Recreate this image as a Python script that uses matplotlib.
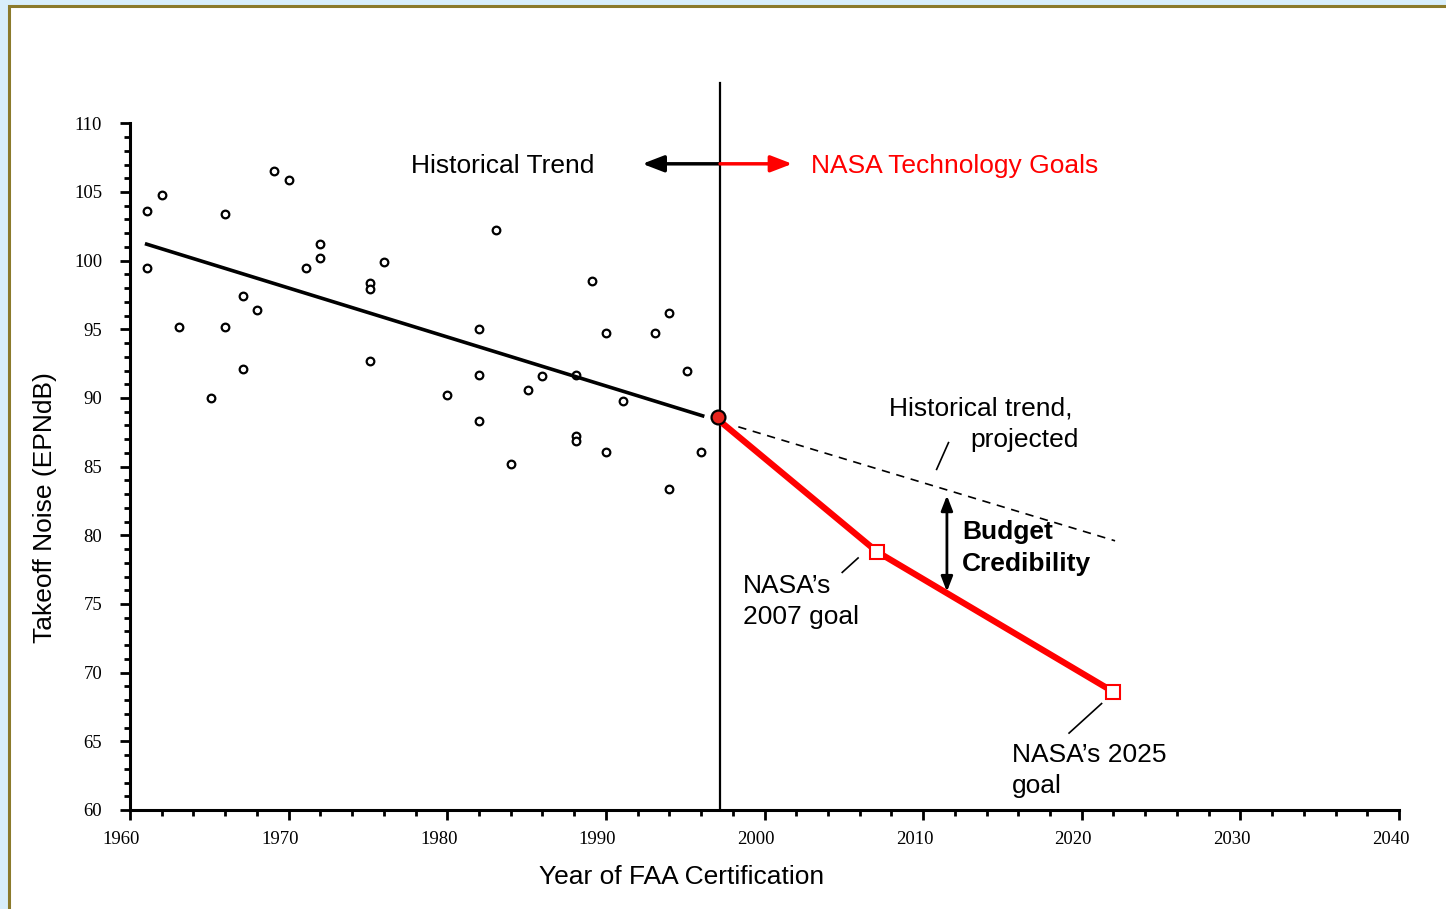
import matplotlib
matplotlib.use("Agg")
import matplotlib.pyplot as plt
import matplotlib.transforms as mtransforms
from matplotlib.patches import Rectangle
from matplotlib.ticker import MultipleLocator

# ---- data ----
cert_year = [1961.1, 1961.1, 1962.0, 1963.1, 1965.1, 1966.0, 1966.0, 1967.1, 1967.1,
             1968.0, 1969.1, 1970.0, 1971.1, 1972.0, 1972.0, 1976.0, 1975.1, 1975.1,
             1975.1, 1980.0, 1982.0, 1982.0, 1982.0, 1983.1, 1984.0, 1985.1, 1986.0,
             1988.1, 1988.1, 1988.1, 1989.1, 1990.0, 1990.0, 1991.1, 1993.1, 1994.0,
             1994.0, 1995.1, 1996.0]
noise_db = [103.6, 99.5, 104.8, 95.2, 90.0, 103.4, 95.2, 97.4, 92.1,
            96.4, 106.5, 105.9, 99.5, 101.2, 100.2, 99.9, 98.4, 97.9,
            92.7, 90.2, 95.0, 91.7, 88.3, 102.2, 85.2, 90.6, 91.6,
            91.7, 87.2, 86.9, 98.5, 94.7, 86.1, 89.8, 94.7, 96.2,
            83.4, 92.0, 86.1]

trend_x = [1961.05, 1996.1]
trend_y = [101.2, 88.7]

goal_x = [1997.1, 2007.1, 2022.0]
goal_y = [88.4, 78.8, 68.6]

proj_x = [1998.35, 2022.1]
proj_y = [87.9, 79.6]

now_year = 1997.2
now_db = 88.6

# ---- figure ----
W, H = 1446, 909
fig = plt.figure(figsize=(W / 100, H / 100), dpi=100)
fig.patch.set_facecolor("#d8eefa")

# white panel with olive border behind the chart
bg = fig.add_axes([0, 0, 1, 1], zorder=-5)
bg.set_axis_off()
bg.set_xlim(0, W)
bg.set_ylim(H, 0)
bg.add_patch(Rectangle((8.5, 5.5), W + 20, H + 20, facecolor="white",
                       edgecolor="#8b7a2b", linewidth=2.2))

ax = fig.add_axes([130 / W, (H - 810) / H, (1399 - 130) / W, (810 - 123.3) / H])
ax.set_facecolor("none")
ax.set_xlim(1960, 2040)
ax.set_ylim(60, 110)

for side in ["top", "right"]:
    ax.spines[side].set_visible(False)
for side in ["left", "bottom"]:
    ax.spines[side].set_linewidth(2.2)

ax.xaxis.set_major_locator(MultipleLocator(10))
ax.xaxis.set_minor_locator(MultipleLocator(2))
ax.yaxis.set_major_locator(MultipleLocator(5))
ax.yaxis.set_minor_locator(MultipleLocator(1))
ax.tick_params(which="major", length=7, width=2)
ax.tick_params(which="minor", length=4, width=2)
ax.tick_params(axis="x", which="major", pad=8)
ax.tick_params(axis="y", which="major", pad=13)
for lab in ax.get_xticklabels() + ax.get_yticklabels():
    lab.set_fontfamily("Liberation Serif")
    lab.set_fontsize(13.5)
shift = mtransforms.ScaledTranslation(-8.5 / 100, 0, fig.dpi_scale_trans)
for lab in ax.get_xticklabels():
    lab.set_transform(lab.get_transform() + shift)

sans = "Liberation Sans"
fig.text(682 / W, 1 - 877 / H, "Year of FAA Certification", ha="center", va="center",
         fontsize=19, fontfamily=sans)
fig.text(45 / W, 1 - 508 / H, "Takeoff Noise (EPNdB)", ha="center", va="center",
         rotation=90, fontsize=19, fontfamily=sans)

# scatter of certified aircraft
ax.plot(cert_year, noise_db, linestyle="none", marker="o", markersize=5.5,
        markerfacecolor="white", markeredgecolor="black", markeredgewidth=1.6, zorder=3)

# historical trend
ax.plot(trend_x, trend_y, color="black", linewidth=2.6, zorder=3)
ax.plot(proj_x, proj_y, color="black", linewidth=1.2, linestyle=(0, (5, 4)), zorder=3)

# divider
ax.plot([now_year, now_year], [60, 112.9], color="black", linewidth=1.6,
        clip_on=False, zorder=2)

# NASA goals
ax.plot(goal_x, goal_y, color="#ff0000", linewidth=4.5, solid_capstyle="butt", zorder=4)
ax.plot(goal_x[1:], goal_y[1:], linestyle="none", marker="s", markersize=10,
        markerfacecolor="white", markeredgecolor="#ff0000", markeredgewidth=1.5, zorder=5)
ax.plot([now_year - 0.1], [now_db], linestyle="none", marker="o", markersize=10,
        markerfacecolor="#e8251e", markeredgecolor="black", markeredgewidth=1.6, zorder=5)

# top arrows
ax.annotate("", xy=(1992.3, 107.05), xytext=(now_year, 107.05),
            arrowprops=dict(arrowstyle="-|>,head_length=1.3,head_width=0.5",
                            color="black", lw=2.5, shrinkA=0, shrinkB=0))
ax.annotate("", xy=(2001.75, 107.05), xytext=(now_year, 107.05),
            arrowprops=dict(arrowstyle="-|>,head_length=1.3,head_width=0.5",
                            color="#ff0000", lw=2.5, shrinkA=0, shrinkB=0))
ax.text(1989.3, 106.9, "Historical Trend", ha="right", va="center",
        fontsize=19, fontfamily=sans)
ax.text(2002.9, 106.9, "NASA Technology Goals", ha="left", va="center",
        fontsize=19, fontfamily=sans, color="#ff0000")

# budget credibility arrow
ax.annotate("", xy=(2011.5, 82.9), xytext=(2011.5, 75.9),
            arrowprops=dict(arrowstyle="<|-|>,head_length=0.9,head_width=0.35",
                            color="black", lw=2.0, shrinkA=0, shrinkB=0))
ax.text(2012.45, 80.25, "Budget", ha="left", va="center", fontsize=19,
        fontfamily=sans, fontweight="bold")
ax.text(2012.45, 77.9, "Credibility", ha="left", va="center", fontsize=19,
        fontfamily=sans, fontweight="bold")

# labels with leader lines
ax.text(2007.85, 89.2, "Historical trend,", ha="left", va="center", fontsize=19, fontfamily=sans)
ax.text(2013.0, 86.95, "projected", ha="left", va="center", fontsize=19, fontfamily=sans)
ax.plot([2010.85, 2011.6], [84.8, 86.75], color="black", linewidth=1.2)

ax.text(1998.65, 76.3, "NASA\u2019s", ha="left", va="center", fontsize=19, fontfamily=sans)
ax.text(1998.65, 74.05, "2007 goal", ha="left", va="center", fontsize=19, fontfamily=sans)
ax.plot([2004.9, 2005.9], [77.3, 78.35], color="black", linewidth=1.2)

ax.text(2015.6, 64.0, "NASA\u2019s 2025", ha="left", va="center", fontsize=19, fontfamily=sans)
ax.text(2015.6, 61.75, "goal", ha="left", va="center", fontsize=19, fontfamily=sans)
ax.plot([2019.2, 2021.25], [65.6, 67.75], color="black", linewidth=1.2)

fig.savefig("out.png", dpi=100, facecolor=fig.get_facecolor())
